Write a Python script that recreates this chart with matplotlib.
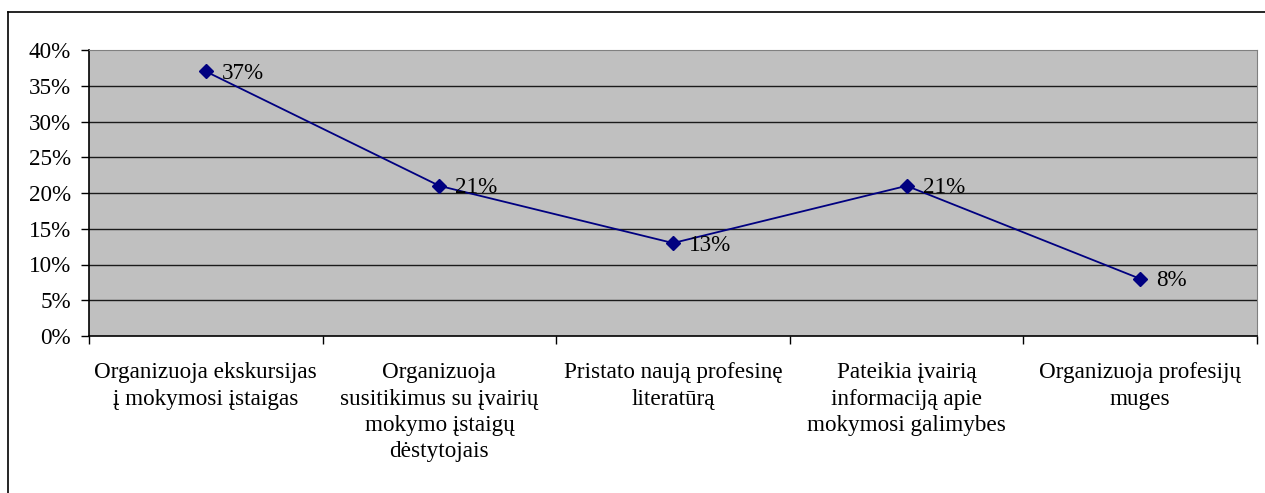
import numpy as np
import matplotlib.pyplot as plt
from matplotlib.lines import Line2D

plt.rcParams['font.family'] = ['Liberation Serif', 'DejaVu Serif']

categories = ['Organizuoja ekskursijas\nį mokymosi įstaigas',
              'Organizuoja\nsusitikimus su įvairių\nmokymo įstaigų\ndėstytojais',
              'Pristato naują profesinę\nliteratūrą',
              'Pateikia įvairią\ninformaciją apie\nmokymosi galimybes',
              'Organizuoja profesijų\nmuges']
values = [37, 21, 13, 21, 8]
yticks = [0, 5, 10, 15, 20, 25, 30, 35, 40]

W, H = 1265, 493
fs = 16.7
fig = plt.figure(figsize=(W / 100, H / 100), dpi=100)
ax = fig.add_axes([89 / W, 1 - 336 / H, (1257 - 89) / W, (336 - 50) / H])
ax.set_facecolor('#c0c0c0')

x = np.arange(len(values))
ax.plot(x, values, color='#000080', lw=1.3, marker='D', ms=7, zorder=3)
for xi, v in zip(x, values):
    ax.annotate(f'{v}%', (xi, v), xytext=(11.5, -1.5), textcoords='offset points',
                ha='left', va='center', fontsize=fs, color='black')

ax.set_xlim(-0.5, len(values) - 0.5)
ax.set_ylim(0, 40)
ax.set_yticks(yticks)
ax.set_yticklabels([f'{t}%' for t in yticks], fontsize=fs)
for t in yticks[1:-1]:
    ax.axhline(t, color='#1a1a1a', lw=1.0, zorder=1)

ax.set_xticks(np.arange(-0.5, len(values) + 0.5, 1))
ax.set_xticklabels([])
ax.set_xticks(x, minor=True)
ax.set_xticklabels(categories, minor=True, fontsize=fs, linespacing=1.32)
ax.tick_params(axis='x', which='minor', length=0, pad=19)
ax.tick_params(axis='x', which='major', length=6, width=1, direction='out')
ax.tick_params(axis='y', length=6, width=1, direction='out', pad=7)

ax.spines['left'].set_color('black')
ax.spines['bottom'].set_color('black')
ax.spines['left'].set_linewidth(1.2)
ax.spines['bottom'].set_linewidth(1.2)
ax.spines['top'].set_color('#808080')
ax.spines['right'].set_color('#808080')

# outer chart border (cropped at right and bottom)
fig.add_artist(Line2D([8 / W, 8 / W], [1 - 12 / H, 0], color='black', lw=1.2))
fig.add_artist(Line2D([8 / W, 1], [1 - 12 / H, 1 - 12 / H], color='black', lw=1.2))

fig.savefig('out.png', dpi=100, facecolor='white')
